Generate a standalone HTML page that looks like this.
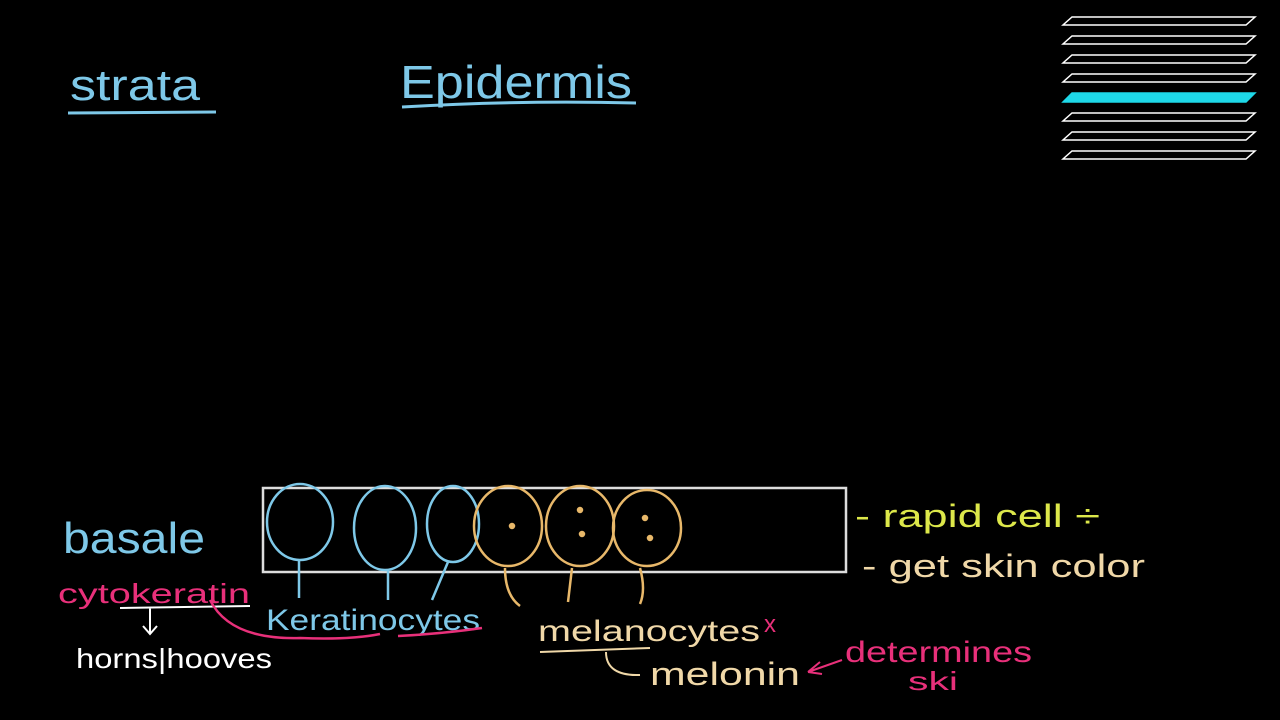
<!DOCTYPE html>
<html><head><meta charset="utf-8"><style>
body{margin:0;background:#000;width:1280px;height:720px;overflow:hidden}
svg{display:block}
text{font-family:"Liberation Sans",sans-serif;}
</style></head><body>
<svg width="1280" height="720" viewBox="0 0 1280 720">
<rect width="1280" height="720" fill="#000"/>
<g>
<text x="70" y="100" font-size="44" fill="#7ec8e8" textLength="130" lengthAdjust="spacingAndGlyphs">strata</text>
<path d="M68 113 L216 112" stroke="#7ec8e8" stroke-width="3" fill="none"/>
</g>
<g>
<text x="400" y="98" font-size="46" fill="#7ec8e8" textLength="232" lengthAdjust="spacingAndGlyphs">Epidermis</text>
<path d="M402 107 Q520 100 636 103" stroke="#7ec8e8" stroke-width="3" fill="none"/>
</g>
<g stroke="#fff" stroke-width="1.5" fill="none">
<path d="M1072 17 H1255 L1246 25 H1063 Z"/>
<path d="M1072 36 H1255 L1246 44 H1063 Z"/>
<path d="M1072 55 H1255 L1246 63 H1063 Z"/>
<path d="M1072 74 H1255 L1246 82 H1063 Z"/>
<path d="M1072 93 H1255 L1246 102 H1063 Z" fill="#1ed8e8" stroke="#1ed8e8"/>
<path d="M1072 113 H1255 L1246 121 H1063 Z"/>
<path d="M1072 132 H1255 L1246 140 H1063 Z"/>
<path d="M1072 151 H1255 L1246 159 H1063 Z"/>
</g>
<rect x="263" y="488" width="583" height="84" fill="none" stroke="#ddd" stroke-width="2.5"/>
<g stroke="#7ec8e8" stroke-width="2.5" fill="none">
<ellipse cx="300" cy="522" rx="33" ry="38"/>
<ellipse cx="385" cy="528" rx="31" ry="42"/>
<ellipse cx="453" cy="524" rx="26" ry="38"/>
<path d="M299 560 L299 598 M388 570 L388 600 M448 562 L432 600"/>
</g>
<g stroke="#e8b86a" stroke-width="2.5" fill="none">
<ellipse cx="508" cy="526" rx="34" ry="40"/>
<ellipse cx="580" cy="526" rx="34" ry="40"/>
<ellipse cx="647" cy="528" rx="34" ry="38"/>
<path d="M505 568 Q505 595 520 606 M572 568 L568 602 M640 568 Q646 590 640 604"/>
<circle cx="512" cy="526" r="2" fill="#e8b86a"/>
<circle cx="580" cy="510" r="2" fill="#e8b86a"/><circle cx="582" cy="534" r="2" fill="#e8b86a"/>
<circle cx="645" cy="518" r="2" fill="#e8b86a"/><circle cx="650" cy="538" r="2" fill="#e8b86a"/>
</g>
<text x="63" y="553" font-size="44" fill="#7ec8e8" textLength="142" lengthAdjust="spacingAndGlyphs">basale</text>
<text x="855" y="527" font-size="32" fill="#dde84a" textLength="245" lengthAdjust="spacingAndGlyphs">- rapid  cell ÷</text>
<text x="862" y="577" font-size="32" fill="#f0d8a8" textLength="283" lengthAdjust="spacingAndGlyphs">- get skin color</text>
<g>
<text x="58" y="603" font-size="28" fill="#e8307a" textLength="192" lengthAdjust="spacingAndGlyphs">cytokeratin</text>
<path d="M120 608 L250 606 M150 608 L150 633 M143 626 L150 634 L157 626" stroke="#fff" stroke-width="2" fill="none"/>
<path d="M210 600 Q230 640 300 638 Q350 640 380 634" stroke="#e8307a" stroke-width="2.5" fill="none"/>
</g>
<text x="76" y="668" font-size="28" fill="#fff" textLength="196" lengthAdjust="spacingAndGlyphs">horns|hooves</text>
<g>
<text x="266" y="630" font-size="30" fill="#7ec8e8" textLength="214" lengthAdjust="spacingAndGlyphs">Keratinocytes</text>
<path d="M398 636 Q440 634 482 628" stroke="#e8307a" stroke-width="2.5" fill="none"/>
</g>
<g>
<text x="538" y="641" font-size="30" fill="#f0d8a8" textLength="222" lengthAdjust="spacingAndGlyphs">melanocytes</text>
<text x="764" y="632" font-size="24" fill="#e8307a">x</text>
<path d="M540 652 L650 648 M606 652 Q606 676 640 675" stroke="#f0d8a8" stroke-width="2" fill="none"/>
</g>
<text x="650" y="685" font-size="32" fill="#f0d8a8" textLength="150" lengthAdjust="spacingAndGlyphs">melonin</text>
<g>
<path d="M842 660 L808 672 M808 672 L820 662 M808 672 L822 674" stroke="#e8307a" stroke-width="2" fill="none"/>
<text x="845" y="662" font-size="30" fill="#e8307a" textLength="187" lengthAdjust="spacingAndGlyphs">determines</text>
<text x="908" y="690" font-size="26" fill="#e8307a" textLength="50" lengthAdjust="spacingAndGlyphs">ski</text>
</g>
</svg>
</body></html>
